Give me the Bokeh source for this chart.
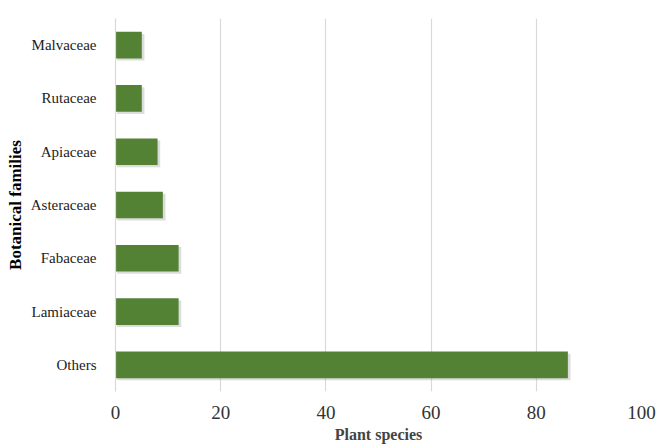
from bokeh.plotting import figure
from bokeh.models import ColumnDataSource, FixedTicker, Title
from bokeh.transform import dodge
from bokeh.embed import file_html
from bokeh.resources import INLINE

families = ["Others", "Lamiaceae", "Fabaceae", "Asteraceae", "Apiaceae", "Rutaceae", "Malvaceae"]
species = [86, 12, 12, 9, 8, 5, 5]
x_ticks = [0, 20, 40, 60, 80, 100]

src = ColumnDataSource(data=dict(
    fam=families,
    val=species,
    shadow=[v + 0.5 for v in species],
))

p = figure(y_range=families, x_range=(0, 100), width=658, height=445,
           output_backend="svg", toolbar_location=None,
           min_border_left=0, min_border_right=17, min_border_top=18, min_border_bottom=0)
p.outline_line_color = None
p.background_fill_color = "white"

FONT = "Liberation Serif"

# soft shadow
p.hbar(y=dodge("fam", -0.04, range=p.y_range), left=0.3, right="shadow", height=0.5,
       source=src, fill_color="#9a9a9a", fill_alpha=0.35, line_color=None)
p.hbar(y="fam", left=0, right="val", height=0.5, source=src,
       fill_color="#548235", line_color=None)

p.xgrid.grid_line_color = "#d9d9d9"
p.xgrid.grid_line_width = 1.2
p.ygrid.grid_line_color = None
p.xaxis.ticker = FixedTicker(ticks=x_ticks)

p.xaxis.axis_line_color = None
p.xaxis.major_tick_line_color = None
p.xaxis.minor_tick_line_color = None
p.xaxis.major_label_text_font = FONT
p.xaxis.major_label_text_font_size = "19px"
p.xaxis.major_label_text_color = "#333333"
p.xaxis.major_label_standoff = 8
p.xaxis.axis_label = "Plant species"
p.xaxis.axis_label_text_font = FONT
p.xaxis.axis_label_text_font_size = "16px"
p.xaxis.axis_label_text_font_style = "bold"
p.xaxis.axis_label_standoff = 4

p.yaxis.axis_line_color = "#d9d9d9"
p.yaxis.axis_line_width = 1.2
p.yaxis.major_tick_line_color = None
p.yaxis.minor_tick_line_color = None
p.yaxis.major_label_text_font = FONT
p.yaxis.major_label_text_font_size = "15px"
p.yaxis.major_label_text_color = "#222222"
p.yaxis.major_label_standoff = 13

ylab = Title(text="Botanical families", align="center",
             text_font=FONT, text_font_size="17px", text_font_style="bold",
             text_color="black", standoff=6)
p.add_layout(ylab, "left")

open("out.html", "w").write(file_html(p, INLINE))
